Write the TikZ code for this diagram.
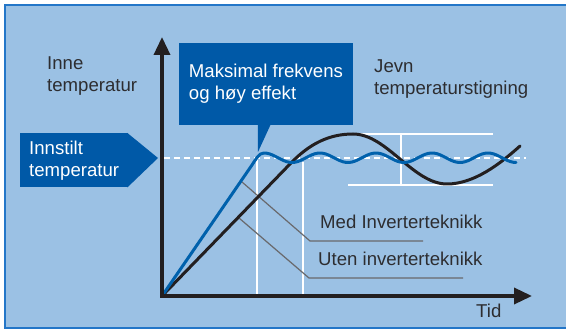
\documentclass[tikz,border=0pt]{standalone}
\usepackage{fontspec}
\setmainfont{Liberation Sans}
\usetikzlibrary{positioning, arrows.meta, calc}
\definecolor{panelblue}{RGB}{155,193,228}
\definecolor{frameblue}{RGB}{35,118,200}
\definecolor{boxblue}{RGB}{0,89,167}
\definecolor{curveblue}{RGB}{0,97,172}
\definecolor{inkgray}{RGB}{35,31,32}
\definecolor{textgray}{RGB}{45,45,48}
\definecolor{leadergray}{RGB}{105,105,108}
\tikzset{
	plain_text/.style={text=textgray, font=\fontsize{18.6}{22}\selectfont, align=left, inner sep=0pt}, % the dark labels
	box_text/.style={fill=boxblue, text=white, font=\fontsize{18.6}{22}\selectfont, align=left, inner sep=0pt}, % the white text in blue boxes
	axis_line/.style={draw=inkgray, line width=3.5pt, arrows={Triangle[length=18pt,width=16pt]-Triangle[length=18pt,width=16pt]}},
	guide_line/.style={draw=white, line width=1.4pt}, % thin white help lines
	leader_line/.style={draw=leadergray, line width=1.2pt},
	curve_line/.style={line width=3pt, line join=round, line cap=round},
}
\begin{document}
\begin{tikzpicture}[x=1pt, y=-1pt]
		\useasboundingbox (0,0) rectangle (566,331);
		\fill[panelblue] (5,5) rectangle (570,328);
		\draw[frameblue, line width=1.5pt] (570,5) -- (5,5) -- (5,328) -- (570,328);

		\coordinate (origin) at (162,296);
		\coordinate (y_tip) at (162,37);
		\coordinate (x_tip) at (532,296);
		\coordinate (max_tip) at (258,152);
		\coordinate (set_tip) at (158,158);

		% labels
		\node[plain_text, anchor=base west] (inne_label) at (47,92) {Inne\\temperatur};
		\node[plain_text, anchor=base west] (jevn_label) at (374,95) {Jevn\\temperaturstigning};
		\node[plain_text, anchor=base west] (with_label) at (320,229) {Med Inverterteknikk};
		\node[plain_text, anchor=base west] (without_label) at (318,266) {Uten inverterteknikk};
		\node[plain_text, anchor=base west] (time_label) at (476,318) {Tid};

		\node[box_text, minimum width=174pt, minimum height=82pt] (max_box) at (266,84) {Maksimal frekvens\\og høy effekt};
		\fill[boxblue] ([xshift=79pt, yshift=1pt]max_box.south west) -- (max_tip) -- ([xshift=92pt, yshift=1pt]max_box.south west) -- cycle;
		\node[box_text, minimum width=108pt, minimum height=54pt, anchor=north west] (set_box) at (20,133) {Innstilt\\temperatur};
		\fill[boxblue] ([xshift=-1pt]set_box.north east) -- (set_tip) -- ([xshift=-1pt]set_box.south east) -- cycle;

		% white help lines
		\draw[guide_line] (origin -| 257,0) -- (257,157);
		\draw[guide_line] (origin -| 303,0) -- (303,162);
		\draw[guide_line] (350,134) -- (493,134) (348,185) -- (493,185) (401,134) -- (401,185);
		\draw[guide_line, dash pattern=on 6pt off 4pt] (set_tip -| 164,0) -- (526,158);

		% leaders
		\draw[leader_line] (242,182) -- (310,241) -- (423,241);
		\draw[leader_line] (239,218) -- (309,278) -- (463,278);

		% curves
		\draw[curve_line, inkgray] (origin) -- (290,164) .. controls (310,143) and (330,134) .. (353,134)
				.. controls (387,134) and (413,184) .. (447,184) .. controls (474,184) and (500,164) .. (520,146);
		\draw[curve_line, curveblue] (origin) -- (252,165) .. controls (256,159) and (259,153) .. (264,153)
				-- plot[domain=264:516, samples=90, smooth] ({\x}, {157.75-4.75*cos((\x-264)*6.42857)});

		\draw[axis_line] (y_tip) -- (origin) -- (x_tip);
	\end{tikzpicture}
\end{document}
